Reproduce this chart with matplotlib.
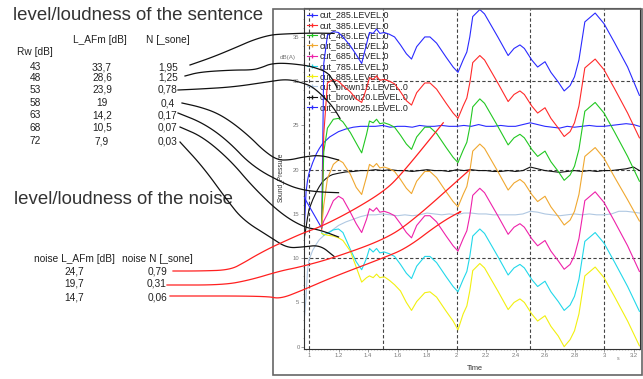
import numpy as np
import matplotlib
matplotlib.use('Agg')
from matplotlib import pyplot as plt
from matplotlib.lines import Line2D
from matplotlib.patches import Rectangle
from matplotlib.ticker import MultipleLocator, FuncFormatter

plt.rcParams['font.family'] = ['Liberation Sans', 'DejaVu Sans']

# sentence curves (s, dB(A))
T = [1.086, 1.10, 1.125, 1.165, 1.20, 1.23, 1.28, 1.32, 1.357, 1.39, 1.41, 1.435, 1.458, 1.48,
     1.51, 1.545, 1.58, 1.62, 1.66, 1.695, 1.73, 1.785, 1.82, 1.865, 1.93, 1.977, 2.01, 2.045,
     2.07, 2.09, 2.11, 2.158, 2.19, 2.28, 2.35, 2.39, 2.43, 2.46, 2.51, 2.55, 2.60, 2.64, 2.69,
     2.73, 2.77, 2.80, 2.83, 2.87, 2.94, 3.00, 3.07, 3.16, 3.24]
T_285 = [0.966] + T

cut_285 = [16.9, 13.4, 32.0, 35.2, 35.6, 35.5, 35.0, 34.0, 33.0, 32.0, 34.2, 35.5, 35.4, 35.9, 35.4,
           35.5, 35.3, 35.0, 34.1, 33.1, 32.5, 33.9, 35.0, 35.0, 34.3, 32.7, 31.6, 31.0, 32.4,
           33.3, 35.0, 37.3, 38.1, 37.6, 35.0, 32.9, 33.7, 34.1, 33.7, 32.4, 31.6, 32.2, 31.0,
           29.9, 28.9, 29.5, 30.5, 32.4, 36.7, 37.7, 36.5, 34.4, 31.6, 28.4]
cut_385 = [13.2, 24.0, 29.8, 30.2, 30.0, 29.5, 28.8, 28.0, 27.6, 29.2, 30.4, 30.2, 30.6, 30.1,
           30.2, 30.0, 29.7, 28.8, 27.8, 27.3, 28.7, 29.8, 29.8, 29.1, 27.5, 26.4, 25.8, 27.2,
           28.1, 29.8, 32.1, 32.9, 32.4, 29.8, 27.7, 28.5, 28.9, 28.5, 27.2, 26.4, 27.0, 25.8,
           24.7, 23.75, 24.3, 25.3, 27.2, 31.5, 32.5, 31.3, 29.2, 26.4, 23.6]
cut_485 = [13.4, 22.0, 24.7, 25.7, 25.8, 25.4, 24.2, 23.0, 21.9, 24.0, 25.5, 25.3, 25.7, 25.2,
           25.3, 25.1, 24.8, 23.9, 22.9, 22.3, 23.7, 24.8, 24.8, 24.1, 22.5, 21.4, 20.8, 22.2,
           23.1, 24.8, 27.1, 28.0, 27.5, 24.9, 22.8, 23.6, 24.0, 23.6, 22.3, 21.5, 22.1, 20.9,
           19.8, 18.8, 19.4, 20.4, 22.3, 26.6, 27.6, 26.4, 24.3, 21.5, 18.7]
cut_585 = [13.6, 16.0, 19.0, 20.6, 21.1, 20.8, 19.5, 18.0, 17.2, 19.2, 20.6, 20.3, 20.7, 20.2,
           20.3, 20.1, 19.8, 18.9, 17.9, 17.3, 18.7, 19.8, 19.8, 19.1, 17.5, 16.4, 15.8, 17.2,
           18.1, 19.8, 22.1, 22.9, 22.4, 19.8, 17.7, 18.5, 18.9, 18.5, 17.2, 16.4, 17.0, 15.8,
           14.7, 13.75, 14.3, 15.3, 17.2, 21.5, 22.5, 21.3, 19.2, 16.6, 14.2]
cut_685 = [13.5, 14.2, 15.0, 16.5, 17.0, 16.7, 15.2, 13.9, 12.9, 14.4, 15.6, 15.3, 15.7, 15.2,
           15.3, 15.1, 14.8, 13.9, 12.9, 12.3, 13.7, 14.8, 14.8, 14.1, 12.5, 11.4, 10.8, 12.2,
           13.1, 14.8, 17.1, 17.9, 17.4, 14.8, 12.7, 13.5, 13.9, 13.5, 12.2, 11.4, 12.0, 10.8,
           9.7, 8.75, 9.3, 10.3, 12.2, 16.5, 17.5, 16.3, 14.2, 11.4, 8.5]
cut_785 = [12.9, 12.6, 12.8, 13.2, 13.3, 12.9, 11.0, 9.6, 8.7, 10.0, 11.1, 10.7, 11.1, 10.6,
           10.7, 10.5, 10.2, 9.3, 8.3, 7.7, 9.1, 10.2, 10.2, 9.5, 7.9, 6.8, 6.2, 7.6,
           8.5, 10.2, 12.5, 13.3, 12.8, 10.2, 8.1, 8.9, 9.3, 8.9, 7.6, 6.8, 7.4, 6.2,
           5.1, 4.1, 4.7, 5.7, 7.6, 11.9, 12.9, 11.7, 9.6, 6.8, 4.0]
cut_885 = [12.8, 12.7, 12.6, 12.5, 12.3, 12.0, 10.8, 9.0, 7.3, 7.8, 8.0, 7.8, 8.2, 7.8,
           7.9, 7.5, 7.0, 6.3, 5.0, 4.1, 5.1, 6.1, 6.2, 5.6, 4.0, 2.9, 1.9, 3.7,
           4.6, 6.3, 8.6, 9.4, 8.9, 6.3, 4.2, 5.0, 5.4, 5.0, 3.7, 2.9, 3.5, 2.3,
           1.2, 0.0, 0.8, 1.8, 3.7, 8.0, 9.0, 7.8, 5.7, 2.9, 0.1]

# noise curves
NT = [0.97, 0.98, 0.99, 1.0, 1.025, 1.05, 1.07, 1.09, 1.115, 1.14, 1.16, 1.2, 1.25,
      1.3, 1.35, 1.4, 1.45, 1.5, 1.55, 1.6, 1.65, 1.7, 1.75, 1.8, 1.85, 1.9, 1.95,
      2.0, 2.05, 2.1, 2.15, 2.2, 2.25, 2.3, 2.35, 2.4, 2.45, 2.5, 2.55, 2.6, 2.65,
      2.7, 2.75, 2.8, 2.85, 2.9, 2.95, 3.0, 3.05, 3.1, 3.15, 3.2, 3.24]
brown15 = [3.5, 5.6, 8.7, 9.8, 10.9, 11.6, 12.1, 12.4, 12.8, 13.0, 13.2, 13.7, 14.1,
           14.4, 14.7, 14.9, 14.9, 15.0, 14.9, 14.8, 14.9, 14.8, 14.9, 15.1, 15.0, 14.9, 15.0,
           14.9, 15.1, 15.1, 15.0, 15.0, 14.9, 14.9, 14.9, 14.9, 15.0, 15.3, 15.2, 15.0, 14.9,
           14.8, 14.9, 15.0, 14.9, 15.0, 14.9, 14.9, 15.0, 15.3, 15.3, 15.2, 15.1]
brown20 = [12.5, 13.5, 14.6, 15.5, 16.6, 17.5, 18.1, 18.6, 19.0, 19.3, 19.45, 19.6, 19.75,
           19.8, 19.9, 19.9, 20.0, 19.9, 20.0, 19.9, 19.9, 19.8, 19.9, 20.0, 19.9, 19.9, 19.8,
           20.0, 19.9, 20.0, 19.9, 19.9, 19.8, 19.8, 19.9, 19.8, 19.9, 20.3, 20.1, 19.9, 19.8,
           19.7, 19.8, 19.9, 19.8, 19.9, 19.8, 19.9, 19.9, 20.0, 20.1, 20.3, 19.9]
brown25 = [14.0, 17.5, 18.8, 19.6, 20.8, 21.8, 22.4, 22.9, 23.3, 23.7, 23.9, 24.3, 24.6,
           24.8, 24.9, 24.9, 24.9, 25.0, 24.8, 24.9, 24.9, 24.8, 25.0, 24.9, 24.9, 25.0, 24.9,
           24.9, 25.0, 24.9, 25.1, 24.9, 24.9, 25.0, 24.9, 24.9, 25.1, 25.3, 25.1, 24.9, 24.8,
           24.7, 24.9, 24.8, 24.9, 25.0, 24.9, 24.9, 25.0, 25.1, 25.2, 25.1, 24.9]

labels = ['cut_285.LEVEL.0', 'cut_385.LEVEL.0', 'cut_485.LEVEL.0', 'cut_585.LEVEL.0',
          'cut_685.LEVEL.0', 'cut_785.LEVEL.0', 'cut_885.LEVEL.0', 'cut_brown15.LEVEL.0',
          'cut_brown20.LEVEL.0', 'cut_brown25.LEVEL.0']
colors = ['#2a2aff', '#ff2a2a', '#22c822', '#f0a830', '#ee22aa', '#22d8ea', '#f2f010',
          '#b0c8e2', '#111111', '#2a2aff']

# tables on the left
rw = ['43', '48', '53', '58', '63', '68', '72']
l_afm = ['33,7', '28,6', '23,9', '19', '14,2', '10,5', '7,9']
n_sone = ['1,95', '1,25', '0,78', '0,4', '0,17', '0,07', '0,03']
noise_l = ['24,7', '19,7', '14,7']
noise_n = ['0,79', '0,31', '0,06']
# where each leader line ends on the chart (time, level)
sent_end = [(1.17, 35.4), (1.19, 29.3), (1.21, 25.8), (1.2, 21.1), (1.2, 17.4), (1.2, 12.4), (1.17, 10.2)]
noise_end = [[(1.91, 25.3)], [(2.09, 20.0)], [(2.04, 15.4), (2.015, 15.1)]]

W, H = 643, 379
fig = plt.figure(figsize=(W / 100, H / 100), dpi=100)

def fx(x, y):
    return x / W, 1 - y / H

ax = fig.add_axes([304 / W, 1 - 349 / H, 336 / W, 341 / H])
ax.set_xlim(0.966, 3.244)
ax.set_ylim(-0.26, 38.27)

for v in [1, 1.5, 2, 2.5, 3]:
    ax.axvline(v, color='#444444', lw=0.8, ls=(0, (3, 2)), zorder=1)
for v in [10, 20, 30]:
    ax.axhline(v, color='#444444', lw=0.8, ls=(0, (3, 2)), zorder=1)

sent = [cut_285, cut_385, cut_485, cut_585, cut_685, cut_785, cut_885]
noise = [brown15, brown20, brown25]
for i, ys in enumerate(sent):
    ax.plot(T_285 if i == 0 else T, ys, color=colors[i], lw=0.8, zorder=3)
for i, ys in enumerate(noise):
    ax.plot(NT, ys, color=colors[7 + i], lw=0.8, zorder=2.5)

ax.xaxis.set_major_locator(MultipleLocator(0.2))
ax.xaxis.set_minor_locator(MultipleLocator(0.02))
ax.yaxis.set_major_locator(MultipleLocator(5))
ax.yaxis.set_minor_locator(MultipleLocator(1))
ax.xaxis.set_major_formatter(FuncFormatter(lambda v, p: '%g' % round(v, 1)))
ax.tick_params(which='major', labelsize=4.2, colors='#777777', length=2, width=0.5, pad=1.2)
ax.tick_params(which='minor', colors='#777777', length=1, width=0.4)
for s in ax.spines.values():
    s.set_color('#333333')
    s.set_linewidth(0.8)

handles = [Line2D([], [], color=c, lw=0.8, marker='|', markersize=3) for c in colors]
leg = ax.legend(handles, labels, loc='upper left', bbox_to_anchor=(0, 1), frameon=False,
                fontsize=6.4, handlelength=1.2, handletextpad=0.3, labelspacing=0.14,
                borderaxespad=0.05, borderpad=0.25)
leg.set_zorder(2)
for t in leg.get_texts():
    t.set_color('#222222')

fig.text(*fx(475, 368), 'Time', fontsize=5.3, color='#333333', ha='center', va='center')
fig.text(*fx(280, 177), 'Sound_Pressure', fontsize=4.8, color='#333333', rotation=90,
         ha='center', va='center')
fig.text(*fx(288, 58), 'dB(A)', fontsize=4.5, color='#777777', ha='center', va='center')
fig.text(*fx(618, 359), 's', fontsize=3.8, color='#777777', ha='center', va='center')

fig.add_artist(Rectangle(fx(272.5, 375), 369 / W, 366 / H, transform=fig.transFigure,
                         fill=False, ec='#666666', lw=1.2))

# left side text
fig.text(*fx(13, 16), 'level/loudness of the sentence', fontsize=13.4, color='#333333', va='center')
fig.text(*fx(14, 199), 'level/loudness of the noise', fontsize=13.4, color='#333333', va='center')
fig.text(*fx(100, 40), 'L_AFm [dB]', fontsize=7.3, color='#222222', ha='center', va='center')
fig.text(*fx(168, 40), 'N [_sone]', fontsize=7.3, color='#222222', ha='center', va='center')
fig.text(*fx(34.5, 52), 'Rw [dB]', fontsize=7.3, color='#222222', ha='center', va='center')
rows = [67, 78, 90, 103, 115, 128, 141]
for y, a, b, c in zip(rows, rw, l_afm, n_sone):
    fig.text(*fx(35, y), a, fontsize=7.3, color='#222222', ha='center', va='center')
    fig.text(*fx(102, y), b, fontsize=7.3, color='#222222', ha='center', va='center')
    fig.text(*fx(168, y), c, fontsize=7.3, color='#222222', ha='center', va='center')
fig.text(*fx(74, 259), 'noise L_AFm [dB]', fontsize=7.3, color='#222222', ha='center', va='center')
fig.text(*fx(157, 259), 'noise N [_sone]', fontsize=7.3, color='#222222', ha='center', va='center')
for y, a, b in zip([271, 284, 297], noise_l, noise_n):
    fig.text(*fx(74, y), a, fontsize=7.3, color='#222222', ha='center', va='center')
    fig.text(*fx(157, y), b, fontsize=7.3, color='#222222', ha='center', va='center')

# leader lines: routed in pixels, ending on data points
def smooth(p, n=3):
    p = np.asarray(p, float)
    for _ in range(n):
        q = 0.75 * p[:-1] + 0.25 * p[1:]
        r = 0.25 * p[:-1] + 0.75 * p[1:]
        mid = np.empty((2 * len(q), 2))
        mid[0::2] = q
        mid[1::2] = r
        p = np.vstack([p[0], mid, p[-1]])
    return p

def leader(route, ends, color):
    pts = list(route)
    for e in ends:
        dx, dy = ax.transData.transform(e)
        pts.append((dx, H - dy))
    p = smooth(pts)
    fig.add_artist(Line2D(p[:, 0] / W, 1 - p[:, 1] / H, transform=fig.transFigure,
                          color=color, lw=0.9, zorder=10))

sent_route = [
    [(190, 65), (213, 57), (237, 47), (253, 40), (270, 35), (283, 34), (310, 33)],
    [(185, 76), (200, 72), (233, 70), (253, 70), (263, 67), (270, 64), (283, 63), (303, 65),
     (313, 67), (327, 72), (333, 80)],
    [(178, 90), (200, 89), (233, 87), (267, 82), (287, 79), (303, 83), (313, 87), (327, 100),
     (335, 110)],
    [(182, 103), (200, 107), (217, 113), (233, 123), (250, 137), (263, 150), (277, 160),
     (290, 160), (303, 157), (320, 155)],
    [(178, 113), (203, 123), (227, 140), (253, 167), (287, 185), (303, 190), (320, 192)],
    [(180, 127), (203, 137), (230, 160), (253, 187), (280, 213), (303, 227), (320, 230)],
    [(180, 142), (203, 167), (227, 200), (243, 220), (270, 237), (287, 248), (303, 247),
     (320, 245)],
]
noise_route = [
    [(173, 271), (200, 271), (230, 270), (245, 262), (255, 256), (270, 248), (283, 242),
     (303, 233), (320, 227), (350, 212), (383, 192), (400, 176)],
    [(167, 285), (223, 285), (250, 280), (280, 271), (300, 267), (333, 258), (383, 240),
     (410, 223)],
    [(170, 296), (267, 296), (280, 299), (303, 290), (333, 277), (383, 258), (407, 248),
     (440, 223)],
]
for r, e in zip(sent_route, sent_end):
    leader(r, [e], '#111111')
for r, e in zip(noise_route, noise_end):
    leader(r, e, '#ff2020')

fig.savefig('out.png', dpi=100)
